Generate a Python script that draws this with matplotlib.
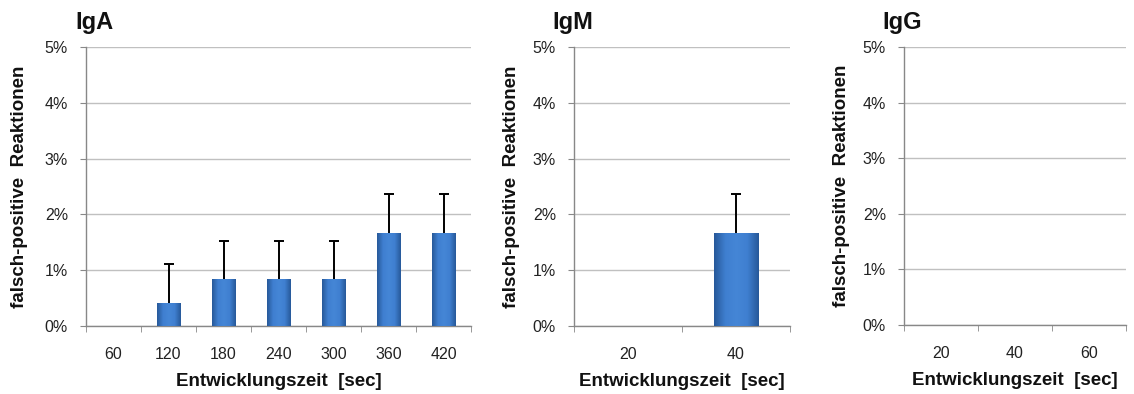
import matplotlib
matplotlib.use('Agg')
import matplotlib.pyplot as plt
import numpy as np
from matplotlib.colors import LinearSegmentedColormap

plt.rcParams['font.family'] = ['Liberation Sans', 'DejaVu Sans']

# daten (anteil falsch-positiver reaktionen in %)
iga_zeit = ['60', '120', '180', '240', '300', '360', '420']
iga_wert = [0.0, 0.42, 0.84, 0.84, 0.84, 1.67, 1.67]
iga_fehler = [0.0, 0.69, 0.69, 0.69, 0.69, 0.70, 0.70]

igm_zeit = ['20', '40']
igm_wert = [0.0, 1.67]
igm_fehler = [0.0, 0.70]

igg_zeit = ['20', '40', '60']
igg_wert = [0.0, 0.0, 0.0]
igg_fehler = [0.0, 0.0, 0.0]

titel = ['IgA', 'IgM', 'IgG']

W, H = 1134, 394
fig = plt.figure(figsize=(W / 100, H / 100), dpi=100)

# achsenpositionen in pixeln: links, rechts, oben, unten
boxen = [(86, 471, 47, 326), (574, 790, 47, 326), (904, 1126, 47, 325)]
titel_x = [75, 552, 882]
ylabel_x = [20, 512, 842]
breiten = [0.43, 0.41, 0.41]

blau = LinearSegmentedColormap.from_list('blau', ['#27599a', '#3f7fd0', '#4586d6', '#3f7fd0', '#27599a'])
grad = np.linspace(0, 1, 64).reshape(1, -1)

daten = [(iga_zeit, iga_wert, iga_fehler), (igm_zeit, igm_wert, igm_fehler), (igg_zeit, igg_wert, igg_fehler)]

for k in range(3):
    zeit, wert, fehler = daten[k]
    l, r, t, b = boxen[k]
    ax = fig.add_axes([l / W, 1 - b / H, (r - l) / W, (b - t) / H])
    x = np.arange(len(zeit))
    bars = ax.bar(x, wert, width=breiten[k], color='#3b78c6', edgecolor='#bbbbbb', linewidth=0.6, zorder=3)
    # farbverlauf in die balken
    for p in bars:
        if p.get_height() > 0:
            p.set_edgecolor('#2c5c98')
            x0 = p.get_x(); x1 = x0 + p.get_width()
            im = ax.imshow(grad, cmap=blau, aspect='auto', extent=(x0, x1, 0, p.get_height()), zorder=3.5)
            im.set_clip_path(p)
    # fehlerbalken nur nach oben
    for i in range(len(x)):
        if fehler[i] > 0:
            ax.errorbar(x[i], wert[i], yerr=[[0], [fehler[i]]], fmt='none', ecolor='black',
                        elinewidth=1.4, capsize=0, zorder=5)
            ax.plot(x[i], wert[i] + fehler[i], marker='_', markersize=6.5, mew=1.4, color='black', zorder=5)
    ax.set_xlim(-0.5, len(zeit) - 0.5)
    ax.set_ylim(0, 5)
    ax.set_yticks(range(6))
    ax.set_yticklabels(['%d%%' % v for v in range(6)])
    ax.set_xticks(x)
    ax.set_xticklabels(zeit)
    ax.set_xticks(np.arange(len(zeit) + 1) - 0.5, minor=True)
    ax.tick_params(axis='x', which='major', length=0, pad=15, labelsize=11.5, labelcolor='#222222')
    ax.tick_params(axis='x', which='minor', length=4, color='#888888', direction='out')
    ax.tick_params(axis='y', length=4, color='#888888', labelsize=11.5, labelcolor='#222222', pad=9)
    ax.yaxis.grid(True, color='#c0c0c0', linewidth=1.0, zorder=0)
    ax.set_axisbelow(True)
    for s in ['top', 'right']:
        ax.spines[s].set_visible(False)
    for s in ['left', 'bottom']:
        ax.spines[s].set_color('#888888')
        ax.spines[s].set_linewidth(1.0)
    ax.set_xlabel('Entwicklungszeit  [sec]', fontsize=13.5, fontweight='bold', color='#111111', labelpad=8)
    fig.text(ylabel_x[k] / W, 1 - ((t + b) / 2) / H, 'falsch-positive  Reaktionen', rotation=90,
             ha='center', va='center', fontsize=13.5, fontweight='bold', color='#111111')
    fig.text(titel_x[k] / W, 1 - 22 / H, titel[k], ha='left', va='center', fontsize=17,
             fontweight='bold', color='#111111')

fig.savefig('out.png', dpi=100)
